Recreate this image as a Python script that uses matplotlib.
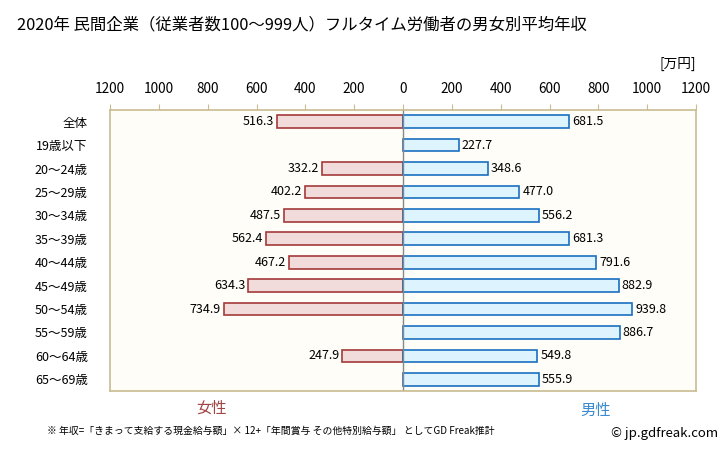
import numpy as np
from matplotlib import pyplot as plt

plt.rcParams["font.family"] = ["Noto Sans CJK JP", "DejaVu Sans"]

TITLE = "2020年 民間企業（従業者数100～999人）フルタイム労働者の男女別平均年収"
categories = ["全体", "19歳以下", "20～24歳", "25～29歳", "30～34歳", "35～39歳",
              "40～44歳", "45～49歳", "50～54歳", "55～59歳", "60～64歳", "65～69歳"]
female = [516.3, None, 332.2, 402.2, 487.5, 562.4, 467.2, 634.3, 734.9, None, 247.9, None]
male = [681.5, 227.7, 348.6, 477.0, 556.2, 681.3, 791.6, 882.9, 939.8, 886.7, 549.8, 555.9]
ticks = [-1200, -1000, -800, -600, -400, -200, 0, 200, 400, 600, 800, 1000, 1200]

FRAME = "#c8bc90"


def main():
    fig = plt.figure(figsize=(7.28, 4.51), dpi=100)
    ax = fig.add_axes([110 / 728, 1 - 391 / 451, 586 / 728, 281 / 451])
    ax.set_facecolor("#fefdf7")

    y = np.arange(len(categories))
    for i, v in enumerate(female):
        if v is None:
            continue
        ax.barh(y[i], -v, height=0.54, color="#f2dbdb", edgecolor="#a33a3a", linewidth=1.2)
        ax.text(-v - 12, y[i], "{:.1f}".format(v), ha="right", va="center", fontsize=9)
    for i, v in enumerate(male):
        ax.barh(y[i], v, height=0.54, color="#ddf3fd", edgecolor="#1a70c0", linewidth=1.2)
        ax.text(v + 12, y[i], "{:.1f}".format(v), ha="left", va="center", fontsize=9)

    ax.axvline(0, color="#888888", linewidth=1)
    ax.set_xlim(-1200, 1200)
    ax.set_ylim(len(categories) - 0.5, -0.5)
    ax.set_yticks(y)
    ax.set_yticklabels(categories, fontsize=9)
    ax.tick_params(axis="y", length=0, pad=16)
    ax.xaxis.tick_top()
    ax.set_xticks(ticks)
    ax.set_xticklabels([str(abs(t)) for t in ticks], fontsize=9.8)
    ax.tick_params(axis="x", length=4, color=FRAME, pad=6)
    for s in ax.spines.values():
        s.set_color(FRAME)
        s.set_linewidth(1.2)

    fig.text(17 / 728, 1 - 25 / 451, TITLE, fontsize=11.8, va="center")
    fig.text(696 / 728, 1 - 64 / 451, "[万円]", fontsize=9.8, ha="right", va="center")
    fig.text(211 / 728, 1 - 408 / 451, "女性", fontsize=11, color="#a04545", ha="center", va="center")
    fig.text(596 / 728, 1 - 410 / 451, "男性", fontsize=11, color="#3a8ad0", ha="center", va="center")
    fig.text(47 / 728, 1 - 431 / 451,
             "※ 年収=「きまって支給する現金給与額」× 12+「年間賞与 その他特別給与額」 としてGD Freak推計",
             fontsize=7.1, va="center")
    fig.text(718 / 728, 1 - 434 / 451, "© jp.gdfreak.com", fontsize=9.5, ha="right", va="center")

    fig.savefig("out.png", dpi=100)


if __name__ == "__main__":
    main()
